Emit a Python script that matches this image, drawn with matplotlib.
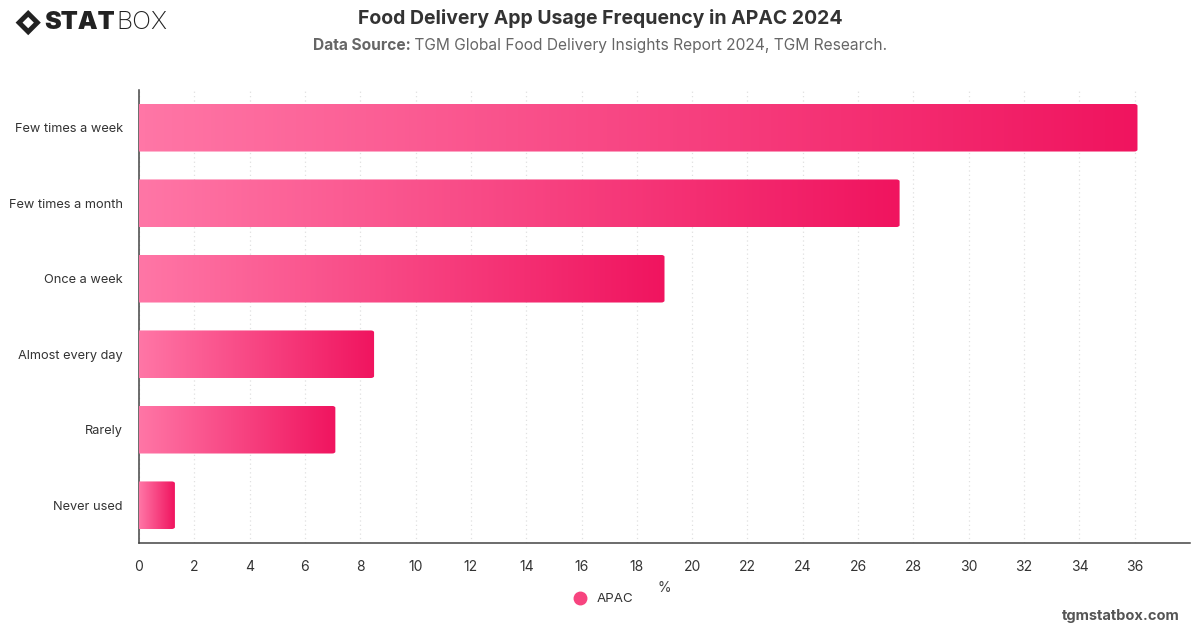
import numpy as np
import matplotlib
matplotlib.use('Agg')
import matplotlib.pyplot as plt
from matplotlib.colors import LinearSegmentedColormap
from matplotlib.patches import FancyBboxPatch, Polygon
from matplotlib.lines import Line2D

plt.rcParams['font.family'] = ['Inter', 'DejaVu Sans']

categories = ['Few times a week', 'Few times a month', 'Once a week',
              'Almost every day', 'Rarely', 'Never used']
values = [36.1, 27.5, 19.0, 8.5, 7.1, 1.3]
series_name = 'APAC'
xticks = list(range(0, 37, 2))

grad = LinearSegmentedColormap.from_list('pinkgrad', ['#ff76a6', '#f0145f'])

fig = plt.figure(figsize=[12, 6.28], dpi=100)
ax = fig.add_axes([0.1158, 0.1354, 0.8759, 0.7213])

bar_h = 0.63
gimg = np.linspace(0, 1, 256).reshape(1, -1)
for i, (cat, v) in enumerate(zip(categories, values)):
    y0 = i - bar_h / 2
    # rounded bar outline used as clip path for the gradient fill
    patch = FancyBboxPatch((-0.5, y0), v + 0.5, bar_h,
                           boxstyle='round,pad=0,rounding_size=0.12',
                           mutation_aspect=0.5 / 0.12 * 0.12 / 2.4,
                           linewidth=0, facecolor='none')
    ax.add_patch(patch)
    im = ax.imshow(gimg, extent=[0, v, y0, y0 + bar_h], cmap=grad,
                   aspect='auto', origin='lower', zorder=3,
                   interpolation='bicubic')
    im.set_clip_path(patch)

ax.set_xlim(0, 38)
ax.set_ylim(len(categories) - 0.5, -0.5)
ax.set_yticks(range(len(categories)))
ax.set_yticklabels(categories)
ax.set_xticks(xticks)
ax.tick_params(axis='both', length=0, colors='#333333')
ax.tick_params(axis='x', pad=12, labelsize=10)
ax.tick_params(axis='y', pad=11.5, labelsize=9.2)
ax.grid(axis='x', color='#e0e0e0', linestyle=(0, (1, 2.5)), linewidth=0.9, zorder=0)
ax.set_axisbelow(True)
for s in ['top', 'right']:
    ax.spines[s].set_visible(False)
for s in ['left', 'bottom']:
    ax.spines[s].set_color('#444444')
    ax.spines[s].set_linewidth(1.1)

ax.set_xlabel('%', fontsize=10, color='#444444', labelpad=5)

# legend
leg_handle = Line2D([], [], marker='o', linestyle='none', markersize=9,
                    markerfacecolor='#f7447f', markeredgecolor='#f7447f')
fig.legend([leg_handle], [series_name], loc='center', bbox_to_anchor=(0.5, 0.046),
           frameon=False, fontsize=9.6, handletextpad=0.2, labelcolor='#333333')

# titles
fig.text(0.5, 0.971, 'Food Delivery App Usage Frequency in APAC 2024', ha='center',
         va='center', fontsize=14, fontweight='bold', color='#333333')
t1 = fig.text(0.5, 0.928, 'Data Source:', ha='left', va='center', fontsize=11.2,
              fontweight='bold', color='#666666')
t2 = fig.text(0.5, 0.928, ' TGM Global Food Delivery Insights Report 2024, TGM Research.',
              ha='left', va='center', fontsize=11.2, color='#666666')
rend = fig.canvas.get_renderer()
w1 = t1.get_window_extent(rend).width / 1200
w2 = t2.get_window_extent(rend).width / 1200
start = 0.5 - (w1 + w2) / 2
t1.set_x(start)
t2.set_x(start + w1)

# watermark
fig.text(0.983, 0.019, 'tgmstatbox.com', ha='right', va='center', fontsize=10.5,
         fontweight='bold', color='#555555')

# logo
lx, ly, r = 0.0235, 0.964, 0.0105
dia = Polygon([[lx - r, ly], [lx, ly + r * 1.91], [lx + r, ly], [lx, ly - r * 1.91]],
              closed=True, transform=fig.transFigure, facecolor='#222222', edgecolor='none')
fig.patches.append(dia)
r2 = r * 0.45
inner = Polygon([[lx - r2, ly], [lx, ly + r2 * 1.91], [lx + r2, ly], [lx, ly - r2 * 1.91]],
                closed=True, transform=fig.transFigure, facecolor='white', edgecolor='none')
fig.patches.append(inner)
ts = fig.text(0.037, 0.964, 'STAT', ha='left', va='center', fontsize=18, fontweight='black',
              color='#222222')
ws = ts.get_window_extent(rend).width / 1200
fig.text(0.037 + ws + 0.001, 0.964, 'BOX', ha='left', va='center', fontsize=18,
         fontweight='light', color='#222222')

fig.savefig('out.png', dpi=100)
